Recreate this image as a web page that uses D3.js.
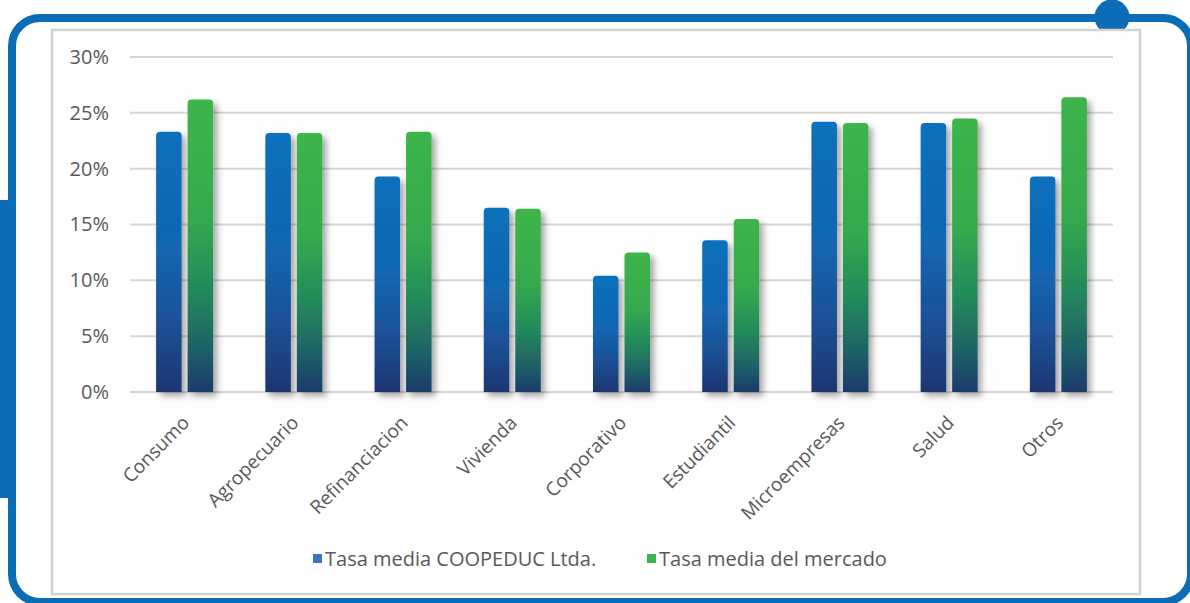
<!DOCTYPE html>
<html>
<head>
<meta charset="utf-8">
<script src="https://cdn.jsdelivr.net/npm/d3@7"></script>
<style>
  html, body { margin: 0; padding: 0; background: #ffffff; }
  svg { display: block; }
  text { font-family: "Open Sans", "Noto Sans", sans-serif; fill: #595959; }
</style>
</head>
<body>
<svg id="chart" width="1190" height="603"></svg>
<script>
// ---- data ----
const categories = ["Consumo", "Agropecuario", "Refinanciacion", "Vivienda", "Corporativo", "Estudiantil", "Microempresas", "Salud", "Otros"];
const seriesNames = ["Tasa media COOPEDUC Ltda.", "Tasa media del mercado"];
const coopeducValues = [0.233, 0.232, 0.193, 0.165, 0.104, 0.136, 0.242, 0.241, 0.193];
const mercadoValues  = [0.262, 0.232, 0.233, 0.164, 0.125, 0.155, 0.241, 0.245, 0.264];
const yTickValues = [0, 0.05, 0.10, 0.15, 0.20, 0.25, 0.30];
const yTickLabels = ["0%", "5%", "10%", "15%", "20%", "25%", "30%"];

const svg = d3.select("#chart");
const frameBlue = "#0b6db5";

// ---- decorative frame ----
svg.append("rect").attr("x", 12).attr("y", 18).attr("width", 1179).attr("height", 584)
  .attr("rx", 28).attr("fill", "none").attr("stroke", frameBlue).attr("stroke-width", 8);
svg.append("rect").attr("x", 0).attr("y", 200).attr("width", 16).attr("height", 298).attr("fill", frameBlue);
svg.append("circle").attr("cx", 1112).attr("cy", 17).attr("r", 17.5).attr("fill", frameBlue);

// inner chart area
svg.append("rect").attr("x", 52).attr("y", 30).attr("width", 1088).attr("height", 564)
  .attr("fill", "#fefefe").attr("stroke", "#d6d2ce").attr("stroke-width", 2.5);

// ---- defs: gradients and shadow ----
const defs = svg.append("defs");
const gradStops = {
  blue: [[0, "#0a70bc"], [0.45, "#1266b2"], [0.75, "#1c4f94"], [1, "#1b3570"]],
  green: [[0, "#3cb54a"], [0.4, "#36aa4e"], [0.65, "#228a5b"], [0.85, "#1f6167"], [1, "#1d3b6c"]]
};
Object.entries(gradStops).forEach(([k, stops]) => {
  const g = defs.append("linearGradient").attr("id", "grad-" + k)
    .attr("x1", 0).attr("y1", 0).attr("x2", 0).attr("y2", 1);
  stops.forEach(([o, c]) => g.append("stop").attr("offset", o).attr("stop-color", c));
});
const f = defs.append("filter").attr("id", "shadow")
  .attr("x", "-30%").attr("y", "-10%").attr("width", "180%").attr("height", "130%");
f.append("feDropShadow").attr("dx", 4).attr("dy", 4).attr("stdDeviation", 3)
  .attr("flood-color", "#000").attr("flood-opacity", 0.35);

// ---- scales ----
const x0 = d3.scaleBand().domain(categories).range([130, 1113]).paddingInner(0.478).paddingOuter(0.239);
const x1 = d3.scaleBand().domain(seriesNames).range([0, x0.bandwidth()]).paddingInner(0.19);
const y = d3.scaleLinear().domain([0, 0.30]).range([392, 57]);

// gridlines
svg.append("g").selectAll("line").data(yTickValues).join("line")
  .attr("x1", 130).attr("x2", 1113)
  .attr("y1", d => y(d)).attr("y2", d => y(d))
  .attr("stroke", "#d8d4d0").attr("stroke-width", 2);

// y axis
const yAxis = d3.axisLeft(y).tickValues(yTickValues).tickFormat((d, i) => yTickLabels[i]).tickSize(0).tickPadding(0);
const gy = svg.append("g").attr("transform", "translate(109,0)").call(yAxis);
gy.select(".domain").remove();
gy.selectAll("text").attr("font-size", 20).attr("fill", "#5a5a5a")
  .style("font-family", '"Open Sans", sans-serif');

// ---- bars ----
const r = 4;
function barPath(x, y0, w, yTop) {
  const h = y0 - yTop;
  const rr = Math.min(r, h);
  return `M${x},${y0}V${yTop + rr}Q${x},${yTop} ${x + rr},${yTop}H${x + w - rr}Q${x + w},${yTop} ${x + w},${yTop + rr}V${y0}Z`;
}
const seriesData = [coopeducValues, mercadoValues];
const seriesFill = ["url(#grad-blue)", "url(#grad-green)"];
const barsG = svg.append("g").attr("filter", "url(#shadow)");
seriesData.forEach((vals, si) => {
  barsG.append("g").selectAll("path").data(categories).join("path")
    .attr("d", (c, i) => barPath(x0(c) + x1(seriesNames[si]), y(0), x1.bandwidth(), y(vals[i])))
    .attr("fill", seriesFill[si]);
});

// ---- x labels ----
const xAxis = d3.axisBottom(x0).tickSize(0).tickPadding(0);
const gx = svg.append("g").attr("transform", `translate(0,${y(0)})`).call(xAxis);
gx.select(".domain").remove();
gx.selectAll("text")
  .attr("font-size", 19).attr("fill", "#5a5a5a")
  .style("font-family", '"Open Sans", sans-serif')
  .attr("text-anchor", "end")
  .attr("dy", 0)
  .attr("transform", "translate(6,32) rotate(-45)");

// ---- legend ----
const legendX = [313, 647];
const legendColors = ["#3a73c4", "#3cb54a"];
const lg = svg.append("g");
seriesNames.forEach((name, i) => {
  lg.append("rect").attr("x", legendX[i]).attr("y", 554).attr("width", 9).attr("height", 9).attr("fill", legendColors[i]);
  lg.append("text").attr("x", legendX[i] + 12).attr("y", 565.5).attr("font-size", 20).text(name);
});
</script>
</body>
</html>
